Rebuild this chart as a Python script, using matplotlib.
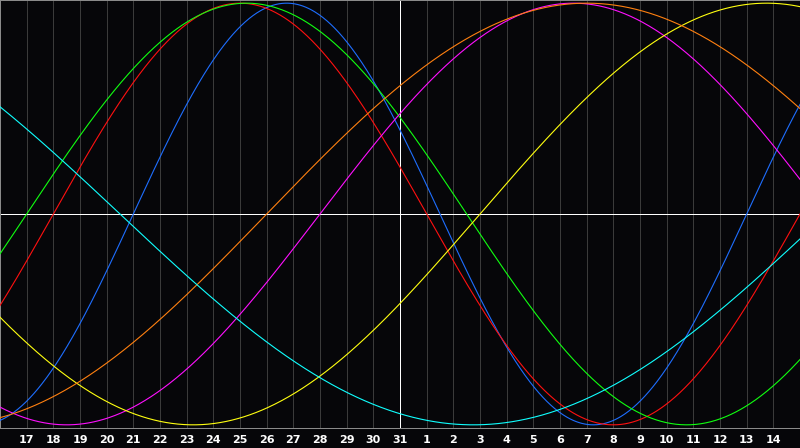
import numpy as np
import matplotlib
matplotlib.use("Agg")
import matplotlib.pyplot as plt

# day labels along the bottom (one per gridline, day offset 1..29)
day_labels = [17, 18, 19, 20, 21, 22, 23, 24, 25, 26, 27, 28, 29, 30, 31,
              1, 2, 3, 4, 5, 6, 7, 8, 9, 10, 11, 12, 13, 14]
n_days = 30            # chart spans offset 0..30
today = 15             # white "today" line (the 31st)

# cycles: period in days, and the offset where each wave crosses zero going up
cycle_names = ["physical", "emotional", "intellectual", "intuitive",
               "aesthetic", "awareness", "spiritual"]
periods = [23, 28, 33, 38, 43, 48, 53]
zero_up = [5, 2, 1, 12, 18, 10, -22]
colors = ["#1e6eff", "#ff1010", "#10ff10", "#ff10ff",
          "#ffff10", "#ff8010", "#10ffff"]

W, H = 800, 448
plot_h = 428
fig = plt.figure(figsize=(W / 100, H / 100), dpi=100, facecolor="#060609")
ax = fig.add_axes([0, 1 - plot_h / H, 1, plot_h / H])
ax.set_facecolor("#060609")
ax.set_xlim(0, n_days)
ax.set_ylim(-1.015, 1.015)

px = 0.72
for d in range(1, n_days):
    ax.axvline(d, color="#3a3a3a", lw=px, zorder=1)
ax.axvline(today, color="white", lw=px, zorder=2)
ax.axhline(0, color="white", lw=px, zorder=2)

t = np.linspace(0, n_days, 801)
for name, p, t0, c in zip(cycle_names, periods, zero_up, colors):
    ax.plot(t, np.sin(2 * np.pi * (t - t0) / p), color=c, lw=0.8, zorder=3, label=name)

ax.set_xticks(range(1, n_days))
ax.set_xticklabels([str(d) for d in day_labels])
ax.tick_params(axis="x", length=0, pad=5, colors="white", labelsize=8)
for lab in ax.get_xticklabels():
    lab.set_fontweight("bold")
ax.set_yticks([])
for s in ax.spines.values():
    s.set_color("#8a8a8a")
    s.set_linewidth(px)

fig.savefig("out.png", dpi=100, facecolor=fig.get_facecolor())
